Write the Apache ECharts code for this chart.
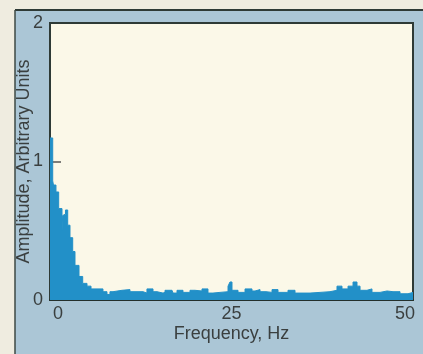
<!DOCTYPE html>
<html>
<head>
<meta charset="utf-8">
<script src="https://cdn.jsdelivr.net/npm/echarts@6/dist/echarts.min.js"></script>
<style>
html,body{margin:0;padding:0;background:#efece0;}
#c{width:423px;height:354px;}
</style>
</head>
<body>
<div id="c"></div>
<script>
// Bin start frequencies (Hz) and amplitudes (arbitrary units)
const freqHz = [-1.15,-0.76,-0.65,-0.29,0.10,0.58,0.68,0.86,1.08,1.40,1.73,2.12,2.45,3.03,3.56,4.18,4.76,
  6.48,7.06,7.49,7.93,9.22,10.37,10.81,12.25,12.82,13.69,14.27,15.13,15.42,16.43,16.57,17.15,18.01,19.02,
  19.74,20.75,21.61,22.33,23.34,24.50,24.78,25.07,25.94,26.95,27.95,28.39,29.11,29.97,30.84,31.70,33.14,
  34.15,34.87,36.31,37.75,39.19,40.20,40.92,41.79,42.51,43.08,43.52,44.52,45.24,46.40,47.41,48.27,49.28,
  50.43,51.15];
const amplitude = [1.17,0.86,0.83,0.78,0.66,0.50,0.61,0.62,0.65,0.54,0.45,0.35,0.25,0.17,0.12,0.10,0.08,
  0.06,0.04,0.06,0.07,0.075,0.06,0.06,0.05,0.08,0.06,0.05,0.055,0.07,0.06,0.05,0.07,0.055,0.07,
  0.065,0.08,0.05,0.055,0.06,0.10,0.13,0.07,0.055,0.08,0.065,0.075,0.06,0.055,0.075,0.055,0.07,
  0.05,0.05,0.055,0.06,0.07,0.10,0.08,0.10,0.13,0.10,0.07,0.08,0.055,0.065,0.06,0.06,0.045,
  0.055,0.055];
const xTicks = [0, 25, 50];
const yTicks = [0, 1, 2];
const xTitle = 'Frequency, Hz';
const yTitle = 'Amplitude, Arbitrary Units';

const data = freqHz.map((f, i) => [f, amplitude[i]]);
const txt = '#3a3f3f';
const font = 'Liberation Sans';
const chart = echarts.init(document.getElementById('c'));
chart.setOption({
  animation: false,
  backgroundColor: '#efece0',
  graphic: [
    {type:'rect', z:-10, shape:{x:15,y:10,width:420,height:360}, style:{fill:'#abc6d6'}},
    {type:'line', z:-9, shape:{x1:15,y1:10,x2:423,y2:10}, style:{stroke:'#2e3a36',lineWidth:2}},
    {type:'line', z:-9, shape:{x1:15,y1:10,x2:15,y2:354}, style:{stroke:'#3c4844',lineWidth:1.5}}
  ],
  grid: {left:50, right:10, top:23, bottom:54, containLabel:false, outerBoundsMode:'none',
         show:true, backgroundColor:'#fbf8e8', borderColor:'#2e3a36', borderWidth:2},
  xAxis: {
    type:'value', min:-1.15, max:51.15,
    name: xTitle, nameLocation:'middle', nameGap:25, nameMoveOverlap:false,
    nameTextStyle:{color:txt, fontSize:18, fontFamily:font},
    axisLine:{show:true, onZero:false, lineStyle:{color:'#24302c', width:2}},
    axisTick:{show:false},
    splitLine:{show:false},
    axisLabel:{customValues:xTicks, color:txt, fontSize:18, fontFamily:font, margin:5}
  },
  yAxis: {
    type:'value', min:0, max:2,
    name: yTitle, nameLocation:'middle', nameGap:17, nameMoveOverlap:false,
    nameTextStyle:{color:txt, fontSize:18, fontFamily:font},
    axisLine:{show:false, onZero:false},
    axisTick:{show:true, inside:true, length:11, customValues:[1], lineStyle:{color:'#555', width:1.5}},
    splitLine:{show:false},
    axisLabel:{customValues:yTicks, color:txt, fontSize:18, fontFamily:font, margin:7}
  },
  series: [{
    type:'line', step:'end', data:data, symbol:'none',
    lineStyle:{color:'#2290c8', width:1},
    areaStyle:{color:'#2290c8', opacity:1}
  }]
});
</script>
</body>
</html>
